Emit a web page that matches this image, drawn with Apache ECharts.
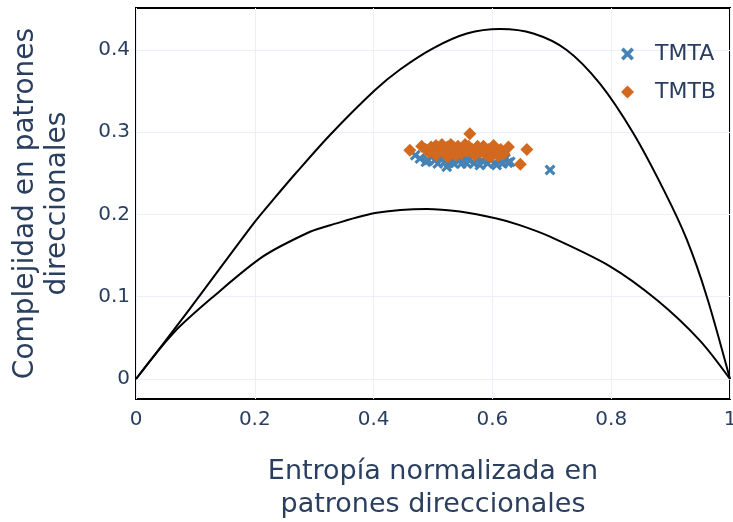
<!DOCTYPE html>
<html>
<head>
<meta charset="utf-8">
<script src="https://cdn.jsdelivr.net/npm/echarts@6/dist/echarts.min.js"></script>
<style>
  html, body { margin: 0; padding: 0; background: #fff; }
  #chart { width: 733px; height: 522px; }
</style>
</head>
<body>
<div id="chart"></div>
<script>
// Upper bound of statistical complexity vs. normalized entropy
const upperBound = [
  [0, 0], [0.063, 0.059], [0.111, 0.105], [0.2, 0.191], [0.231, 0.218],
  [0.27, 0.251], [0.327, 0.297], [0.402, 0.351], [0.444, 0.376],
  [0.50, 0.402], [0.557, 0.420], [0.613, 0.4255], [0.669, 0.420],
  [0.725, 0.400], [0.781, 0.359], [0.837, 0.299], [0.889, 0.229],
  [0.927, 0.170], [0.961, 0.100], [1, 0]
];

// Lower bound of statistical complexity vs. normalized entropy
const lowerBound = [
  [0, 0], [0.063, 0.056], [0.130, 0.100], [0.214, 0.149], [0.293, 0.179],
  [0.327, 0.187], [0.405, 0.202], [0.489, 0.2067], [0.545, 0.2035],
  [0.607, 0.195], [0.646, 0.187], [0.697, 0.173], [0.798, 0.137],
  [0.877, 0.096], [0.949, 0.047], [1, 0]
];

// TMTA: [entropy, complexity]
const tmta = [
  [0.470, 0.272], [0.478, 0.268], [0.488, 0.264], [0.492, 0.266], [0.498, 0.270],
  [0.503, 0.266], [0.508, 0.262], [0.512, 0.268], [0.517, 0.272], [0.521, 0.265],
  [0.523, 0.258], [0.527, 0.263], [0.531, 0.268], [0.535, 0.262], [0.539, 0.271],
  [0.543, 0.265], [0.548, 0.262], [0.552, 0.268], [0.557, 0.262], [0.561, 0.266],
  [0.565, 0.273], [0.569, 0.262], [0.573, 0.268], [0.577, 0.276], [0.579, 0.260],
  [0.583, 0.265], [0.588, 0.270], [0.592, 0.262], [0.596, 0.267], [0.600, 0.274],
  [0.604, 0.263], [0.607, 0.260], [0.612, 0.266], [0.617, 0.262], [0.622, 0.268],
  [0.626, 0.263], [0.630, 0.264], [0.697, 0.254], [0.545, 0.275], [0.585, 0.278]
];

// TMTB: [entropy, complexity]
const tmtb = [
  [0.461, 0.278], [0.481, 0.283], [0.488, 0.279], [0.493, 0.276], [0.497, 0.282],
  [0.501, 0.279], [0.505, 0.284], [0.509, 0.276], [0.512, 0.281], [0.515, 0.285],
  [0.518, 0.278], [0.521, 0.274], [0.524, 0.282], [0.527, 0.279], [0.530, 0.285],
  [0.533, 0.276], [0.536, 0.281], [0.539, 0.272], [0.542, 0.283], [0.545, 0.278],
  [0.548, 0.274], [0.551, 0.281], [0.554, 0.285], [0.557, 0.277], [0.560, 0.283],
  [0.562, 0.298], [0.566, 0.279], [0.570, 0.272], [0.575, 0.283], [0.580, 0.276],
  [0.585, 0.283], [0.589, 0.273], [0.593, 0.279], [0.597, 0.270], [0.602, 0.284],
  [0.606, 0.276], [0.610, 0.271], [0.614, 0.279], [0.619, 0.274], [0.627, 0.282],
  [0.647, 0.261], [0.658, 0.279], [0.525, 0.270], [0.505, 0.272]
];

const yTicks = [0, 0.1, 0.2, 0.3, 0.4];
const xTitle = 'Entropía normalizada en\npatrones direccionales';
const yTitle = 'Complejidad en patrones\ndireccionales';

const FONT = 'DejaVu Sans';
const TEXT = '#2a3f5f';
const GRIDLINE = '#EBF0F8';
const BLUE = '#4682B4';
const ORANGE = '#D2691E';
const X_SYMBOL = 'path://M0,2L2,0L5,3L8,0L10,2L7,5L10,8L8,10L5,7L2,10L0,8L3,5Z';

const chart = echarts.init(document.getElementById('chart'), null, { renderer: 'canvas' });

chart.setOption({
  animation: false,
  backgroundColor: '#fff',
  textStyle: { fontFamily: FONT },
  grid: {
    left: 136, right: 3, top: 8, bottom: 123,
    outerBoundsMode: 'none', containLabel: false,
    show: true, borderColor: '#000', borderWidth: 2, backgroundColor: 'transparent'
  },
  legend: {
    orient: 'vertical',
    left: 616, top: 38,
    itemWidth: 13, itemHeight: 13, itemGap: 16,
    textStyle: { fontFamily: FONT, fontSize: 22, color: TEXT, padding: [0, 0, 0, 16] },
    data: [
      { name: 'TMTA', icon: X_SYMBOL, itemStyle: { color: BLUE } },
      { name: 'TMTB', icon: 'diamond', itemStyle: { color: ORANGE } }
    ]
  },
  xAxis: {
    type: 'value', min: 0, max: 1, interval: 0.2,
    name: xTitle, nameLocation: 'middle', nameGap: 56,
    nameTextStyle: { fontFamily: FONT, fontSize: 27, color: TEXT, lineHeight: 33 },
    axisLine: { show: false }, axisTick: { show: false },
    axisLabel: { fontFamily: FONT, fontSize: 20, color: TEXT, margin: 11 },
    splitLine: { show: true, lineStyle: { color: GRIDLINE, width: 1 } }
  },
  yAxis: {
    type: 'value', min: -0.0243, max: 0.451,
    name: yTitle, nameLocation: 'middle', nameGap: 62, nameRotate: 90,
    nameTextStyle: { fontFamily: FONT, fontSize: 28, color: TEXT, lineHeight: 32 },
    axisLine: { show: false },
    axisTick: { show: false, customValues: yTicks },
    axisLabel: {
      fontFamily: FONT, fontSize: 20, color: TEXT, margin: 6,
      customValues: yTicks,
      formatter: v => (v === 0 ? '0' : String(v))
    },
    splitLine: { show: true, lineStyle: { color: GRIDLINE, width: 1 } }
  },
  series: [
    {
      name: 'upper', type: 'line', data: upperBound, showSymbol: false, silent: true,
      smooth: 0.3, lineStyle: { color: '#000', width: 2 }, z: 2
    },
    {
      name: 'lower', type: 'line', data: lowerBound, showSymbol: false, silent: true,
      smooth: 0.3, lineStyle: { color: '#000', width: 2 }, z: 2
    },
    {
      name: 'TMTA', type: 'scatter', data: tmta, symbol: X_SYMBOL, symbolSize: 11,
      itemStyle: { color: BLUE, opacity: 1 }, z: 3
    },
    {
      name: 'TMTB', type: 'scatter', data: tmtb, symbol: 'diamond', symbolSize: 13,
      itemStyle: { color: ORANGE, opacity: 1 }, z: 4
    }
  ]
});
</script>
</body>
</html>
